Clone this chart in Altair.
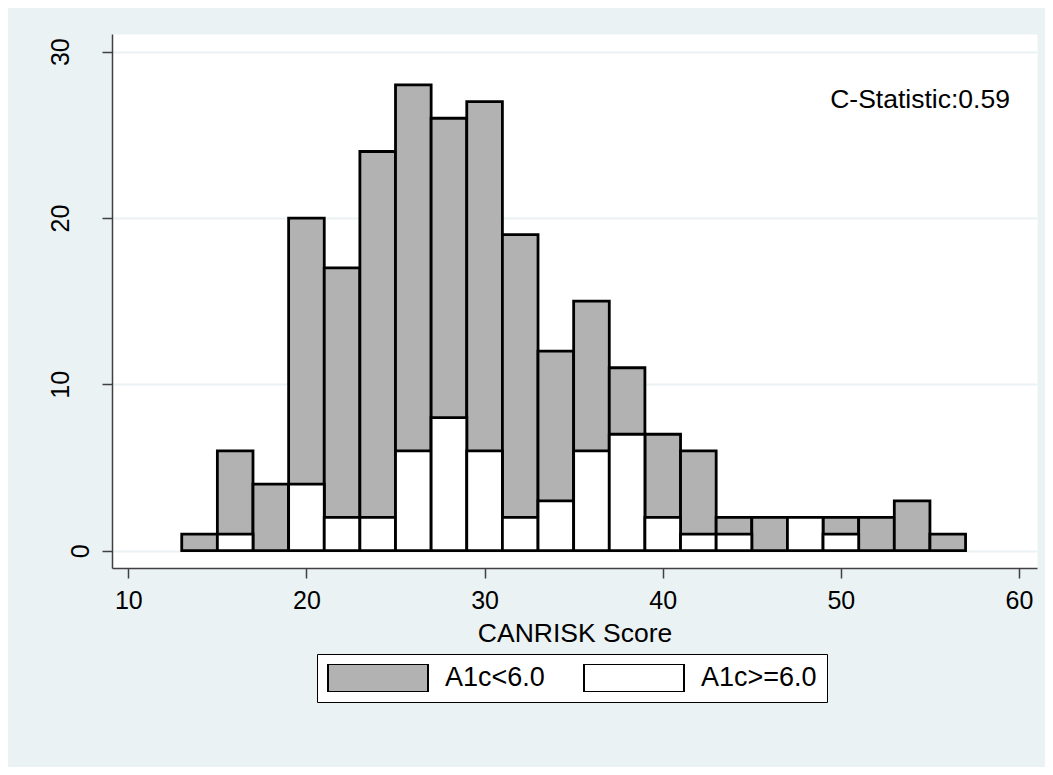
import altair as alt
import pandas as pd

# Histogram bins (width 2) of CANRISK score
bin_starts = [13, 15, 17, 19, 21, 23, 25, 27, 29, 31, 33, 35, 37, 39, 41, 43, 45, 47, 49, 51, 53, 55]
bin_width = 2
low_counts = [1, 6, 4, 20, 17, 24, 28, 26, 27, 19, 12, 15, 11, 7, 6, 2, 2, 0, 2, 2, 3, 1]   # A1c<6.0
high_counts = [0, 1, 0, 4, 2, 2, 6, 8, 6, 2, 3, 6, 7, 2, 1, 1, 0, 2, 1, 0, 0, 0]          # A1c>=6.0
groups = ["A1c<6.0", "A1c>=6.0"]
group_colors = ["#b2b2b2", "#ffffff"]
x_ticks = [10, 20, 30, 40, 50, 60]
y_ticks = [0, 10, 20, 30]
annotation = "C-Statistic:0.59"
annotation_pos = (59.49, 26.6)

rows = []
for g, counts in zip(groups, [low_counts, high_counts]):
    for s, c in zip(bin_starts, counts):
        if c > 0:
            rows.append({"group": g, "start": s, "end": s + bin_width, "count": c})
df = pd.DataFrame(rows)
ann_df = pd.DataFrame({"x": [annotation_pos[0]], "y": [annotation_pos[1]], "label": [annotation]})

FONT = "Liberation Sans"
AXIS_COLOR = "#404040"

xscale = alt.Scale(domain=[9.085, 61.01], nice=False, zero=False)
yscale = alt.Scale(domain=[-1.04, 31.064], nice=False, zero=False)

bars = alt.Chart(df).mark_bar(stroke="black", strokeWidth=2.8, opacity=1).encode(
    x=alt.X("start:Q", scale=xscale,
            axis=alt.Axis(values=x_ticks, title="CANRISK Score", grid=False,
                          tickSize=10, tickColor=AXIS_COLOR, tickWidth=1.5,
                          domainColor=AXIS_COLOR, domainWidth=1.5,
                          labelFont=FONT, labelFontSize=25, labelColor="black",
                          labelPadding=10, labelBaseline="top",
                          titleFont=FONT, titleFontSize=26.5, titleFontWeight="normal",
                          titleColor="black", titleBaseline="alphabetic", titleY=73)),
    x2="end:Q",
    y=alt.Y("count:Q", scale=yscale,
            axis=alt.Axis(values=y_ticks, title=None, grid=True,
                          gridColor="#EAF2F3", gridWidth=2,
                          tickSize=10, tickColor=AXIS_COLOR, tickWidth=1.5,
                          domainColor=AXIS_COLOR, domainWidth=1.5,
                          labelFont=FONT, labelFontSize=25, labelColor="black",
                          labelAngle=270, labelAlign="center", labelPadding=34,
                          labelBaseline={"condition": {"test": "datum.value == 0", "value": "top"},
                                         "value": "alphabetic"})),
    y2=alt.datum(0),
    color=alt.Color("group:N", scale=alt.Scale(domain=groups, range=group_colors),
                    legend=alt.Legend(title=None, orient="none", legendX=205, legendY=620,
                                      direction="horizontal",
                                      symbolType="M-1,-0.28L1,-0.28L1,0.28L-1,0.28Z",
                                      symbolSize=10000, clipHeight=28,
                                      symbolStrokeColor="black", symbolStrokeWidth=2,
                                      symbolOpacity=1,
                                      labelFont=FONT, labelFontSize=27, labelColor="black",
                                      labelOffset=16, labelLimit=400, columnPadding=38,
                                      padding=10, strokeColor="black", fillColor="white")),
)

text = alt.Chart(ann_df).mark_text(align="right", baseline="alphabetic", font=FONT,
                                   fontSize=26.5, color="black").encode(
    x=alt.X("x:Q", scale=xscale),
    y=alt.Y("y:Q", scale=yscale),
    text="label:N",
)

chart = alt.layer(bars, text).properties(
    width=925, height=534,
    autosize=alt.AutoSizeParams(type="none"),
    padding={"left": 104, "top": 26, "right": 8, "bottom": 199},
    background="#EAF2F3",
).configure_view(fill="white", stroke="transparent")

chart.save("out.html", embed_options={"renderer": "svg", "actions": False})
